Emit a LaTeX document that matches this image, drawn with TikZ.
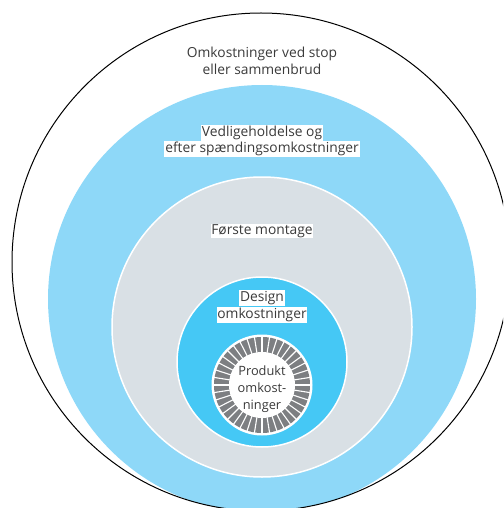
\documentclass[tikz,border=0pt]{standalone}
\usepackage{fontspec}
\setmainfont{Open Sans}
\usepackage{tikz}
\definecolor{lightblue}{HTML}{8ED8F8}
\definecolor{brightblue}{HTML}{45C8F5}
\definecolor{lightgrey}{HTML}{D9E0E5}
\definecolor{segmentgrey}{HTML}{7D7F82}
\definecolor{textgrey}{HTML}{3A3A3A}

\begin{document}
\begin{tikzpicture}[x=1pt,y=-1pt]
					\tikzstyle{label}=[fill=white,inner sep=0.8pt,text=textgrey,font=\fontsize{13.8}{17}\selectfont]
					\tikzstyle{plainlabel}=[inner sep=1pt,align=center,text=textgrey,font=\fontsize{13.8}{17}\selectfont]
					\useasboundingbox (0,0) rectangle (503,508);
					\clip (0,0) rectangle (503,508);
					% rings from outside in
					\coordinate (outer) at (261,262);
					\coordinate (upkeep) at (262,299);
					\coordinate (montage) at (262,327);
					\coordinate (design) at (262,362);
					\coordinate (product) at (262,385);
					\begin{scope}
					\clip (outer) circle (249);
					\fill[lightblue] (upkeep) circle (214);
					\end{scope}
					\draw[black,line width=1pt] (outer) circle (249);
					\filldraw[fill=lightgrey,draw=white,line width=1.5pt] (montage) circle (150);
					\filldraw[fill=brightblue,draw=white,line width=1.5pt] (design) circle (85);
					\fill[white] (product) circle (50.5);
					\fill[segmentgrey] (product) circle (48);
					\fill[white] (product) circle (33);
					\foreach \a in {0,9,...,351}
						\draw[white,line width=1.1pt] (product) ++(\a:32) -- ++(\a:17);
					% labels
					\node[plainlabel] (stop) at (262,61) {Omkostninger ved stop\\eller sammenbrud};
					\node[label] (upkeeptop) at (262,133) {Vedligeholdelse og};
					\node[label] (upkeepbottom) at (262,149) {efter spændingsomkostninger};
					\node[label] (montagetext) at (262,231) {Første montage};
					\node[label] (designtop) at (262,298) {Design};
					\node[label] (designbottom) at (262,315) {omkostninger};
					\node[plainlabel,font=\fontsize{12.8}{17}\selectfont] (producttext) at (262,389) {Produkt\\omkost-\\ninger};
\end{tikzpicture}
\end{document}
